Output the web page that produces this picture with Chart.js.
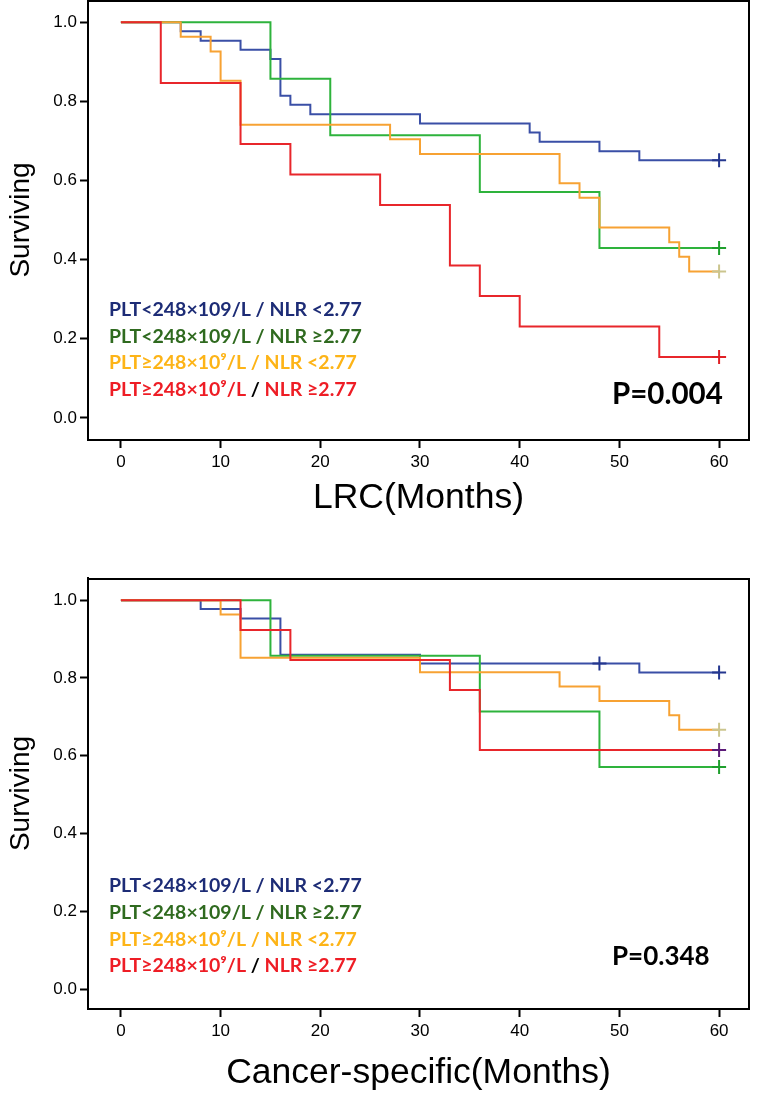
<!DOCTYPE html>
<html>
<head>
<meta charset="utf-8">
<script src="https://cdn.jsdelivr.net/npm/chart.js@4.4.0/dist/chart.umd.min.js"></script>
<style>
  body { margin: 0; background: #fff; overflow: hidden; }
  .wrap { position: relative; width: 758px; }
  #lrcWrap { height: 549px; margin-top: -9px; }
  #csWrap { height: 561px; }
</style>
</head>
<body>
<div class="wrap" id="lrcWrap"><canvas id="lrcChart"></canvas></div>
<div class="wrap" id="csWrap"><canvas id="csChart"></canvas></div>
<script>
// Kaplan-Meier curves: LRC and cancer-specific survival by PLT / NLR group

const monthTicks = [0, 10, 20, 30, 40, 50, 60];
const survTicks = [0, 0.2, 0.4, 0.6, 0.8, 1.0];

// LRC (top panel)
const lrcBlueT = [0, 6, 8, 12, 15, 16, 17, 19, 30, 41, 42, 48, 52, 60];
const lrcBlueS = [1, 0.977, 0.953, 0.930, 0.907, 0.814, 0.791, 0.767, 0.744, 0.721, 0.698, 0.674, 0.651, 0.651];
const lrcGreenT = [0, 15, 21, 36, 48, 60];
const lrcGreenS = [1, 0.857, 0.714, 0.571, 0.429, 0.429];
const lrcOrangeT = [0, 6, 9, 10, 12, 27, 30, 44, 46, 48, 55, 56, 57, 60];
const lrcOrangeS = [1, 0.963, 0.926, 0.852, 0.741, 0.704, 0.667, 0.593, 0.556, 0.481, 0.444, 0.407, 0.370, 0.370];
const lrcRedT = [0, 4, 12, 17, 26, 33, 36, 40, 54, 60];
const lrcRedS = [1, 0.846, 0.692, 0.615, 0.538, 0.385, 0.308, 0.231, 0.154, 0.154];
const lrcCensor = [[60], [60], [60], [60]];

// Cancer-specific (bottom panel)
const csBlueT = [0, 8, 12, 16, 30, 52, 60];
const csBlueS = [1, 0.977, 0.953, 0.860, 0.837, 0.814, 0.814];
const csGreenT = [0, 15, 36, 48, 60];
const csGreenS = [1, 0.857, 0.714, 0.571, 0.571];
const csOrangeT = [0, 10, 12, 30, 44, 48, 55, 56, 60];
const csOrangeS = [1, 0.963, 0.852, 0.815, 0.778, 0.741, 0.704, 0.667, 0.667];
const csRedT = [0, 12, 17, 33, 36, 60];
const csRedS = [1, 0.923, 0.846, 0.769, 0.615, 0.615];
const csCensor = [[48, 60], [60], [60], [60]];

const lineColors = ['#3a4fa6', '#2eb33c', '#f7a233', '#e8262b'];
const lrcCensorColors = ['#24378f', '#1f9f2d', '#cbc58e', '#e02025'];
const csCensorColors = ['#24378f', '#1f9f2d', '#cbc58e', '#5b1a78'];

const legendLines = [
    [['PLT<248×109/L / NLR <2.77', '#1d2c76']],
    [['PLT<248×109/L / NLR ≥2.77', '#2f6a1f']],
    [['PLT≥248×10⁹/L / NLR <2.77', '#fdb417']],
    [['PLT≥248×10⁹/L ', '#ee1d25'], ['/', '#000'], [' NLR ≥2.77', '#ee1d25']]
];

// survival value at time t from a step curve
function survAt(ts, ss, t) {
    let v = ss[0];
    for (let i = 0; i < ts.length; i++) {
        if (ts[i] <= t) v = ss[i];
    }
    return v;
}

function buildDatasets(curves, censors, censorColors) {
    const sets = [];
    curves.forEach((c, i) => {
        sets.push({
            data: c[0].map((t, j) => ({ x: t, y: c[1][j] })),
            showLine: true,
            stepped: 'before',
            borderColor: lineColors[i],
            borderWidth: 2,
            pointRadius: 0,
            fill: false,
            order: 10 - i
        });
        sets.push({
            data: censors[i].map(t => ({ x: t, y: survAt(c[0], c[1], t) })),
            showLine: false,
            pointStyle: 'cross',
            pointRadius: 7,
            pointBorderWidth: 2,
            pointBorderColor: censorColors[i],
            borderColor: censorColors[i],
            order: 0
        });
    });
    return sets;
}

// frame + legend text + p value
function overlayPlugin(legendY, pText, pY, pSize) {
    return {
        id: 'overlay',
        afterDraw(chart) {
            const ctx = chart.ctx;
            const a = chart.chartArea;
            ctx.save();
            ctx.strokeStyle = '#000';
            ctx.lineWidth = 2;
            ctx.strokeRect(a.left, a.top + 1, a.right - a.left, a.bottom - a.top - 1);
            ctx.font = 'bold 19.5px Lato';
            ctx.textBaseline = 'middle';
            legendLines.forEach((segs, i) => {
                let x = 109;
                segs.forEach(s => {
                    ctx.fillStyle = s[1];
                    ctx.fillText(s[0], x, legendY[i]);
                    x += ctx.measureText(s[0]).width;
                });
            });
            ctx.fillStyle = '#000';
            ctx.font = 'bold ' + pSize + 'px Lato';
            ctx.fillText(pText, 612, pY);
            ctx.restore();
        }
    };
}

function makeChart(id, curves, censors, censorColors, xTitle, padding, xHeight, yMin, yMax, legendY, pText, pY, pSize) {
    const ctx = document.getElementById(id).getContext('2d');
    return new Chart(ctx, {
        type: 'scatter',
        data: { datasets: buildDatasets(curves, censors, censorColors) },
        options: {
            responsive: true,
            maintainAspectRatio: false,
            animation: false,
            layout: { padding: padding },
            plugins: { legend: { display: false }, tooltip: { enabled: false } },
            scales: {
                x: {
                    type: 'linear',
                    min: -3.3,
                    max: 63,
                    afterBuildTicks: s => { s.ticks = monthTicks.map(v => ({ value: v })); },
                    afterFit: s => { s.height = xHeight; s.paddingLeft = 0; s.paddingRight = 0; },
                    border: { display: true, color: '#000', width: 2 },
                    grid: { drawOnChartArea: false, drawTicks: true, tickLength: 8, tickColor: '#000', tickWidth: 2 },
                    ticks: { color: '#000', padding: 4, font: { family: 'Liberation Sans', size: 17 } },
                    title: { display: true, text: xTitle, color: '#000', font: { family: 'Liberation Sans', size: 35.5 }, padding: { top: 4, bottom: 0 } }
                },
                y: {
                    type: 'linear',
                    min: yMin,
                    max: yMax,
                    afterBuildTicks: s => { s.ticks = survTicks.map(v => ({ value: v })); },
                    afterFit: s => { s.width = 88; s.paddingTop = 0; s.paddingBottom = 0; },
                    border: { display: true, color: '#000', width: 2 },
                    grid: { drawOnChartArea: false, drawTicks: true, tickLength: 8, tickColor: '#000', tickWidth: 2 },
                    ticks: { color: '#000', padding: 3, font: { family: 'Liberation Sans', size: 17 }, callback: v => v.toFixed(1) },
                    title: { display: true, text: 'Surviving', color: '#000', font: { family: 'Liberation Sans', size: 28 }, padding: { top: 4, bottom: 0 } }
                }
            }
        },
        plugins: [overlayPlugin(legendY, pText, pY, pSize)]
    });
}

document.addEventListener('DOMContentLoaded', function() {
    makeChart('lrcChart',
        [[lrcBlueT, lrcBlueS], [lrcGreenT, lrcGreenS], [lrcOrangeT, lrcOrangeS], [lrcRedT, lrcRedS]],
        lrcCensor, lrcCensorColors, 'LRC(Months)',
        { top: 0, right: 8, bottom: 20, left: 0 }, 80, -0.056, 1.056,
        [319, 346, 372, 399], 'P=0.004', 403, 29.5);
    makeChart('csChart',
        [[csBlueT, csBlueS], [csGreenT, csGreenS], [csOrangeT, csOrangeS], [csRedT, csRedS]],
        csCensor, csCensorColors, 'Cancer-specific(Months)',
        { top: 38, right: 8, bottom: 6, left: 0 }, 86, -0.051, 1.057,
        [346, 373, 400, 426], 'P=0.348', 417, 26);
});
</script>
</body>
</html>
